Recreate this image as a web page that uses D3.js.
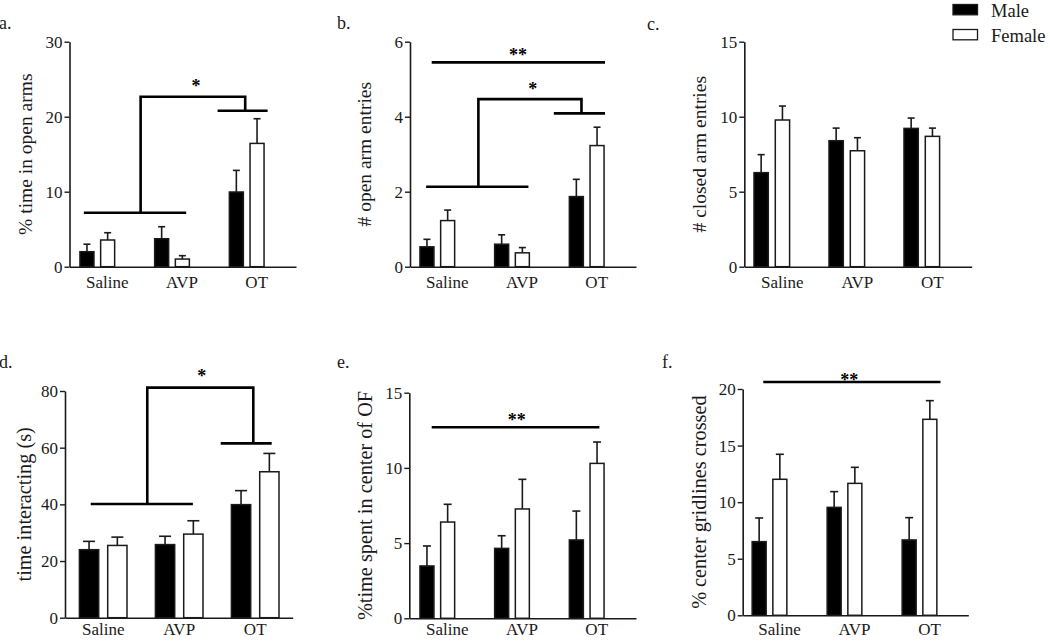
<!DOCTYPE html>
<html>
<head>
<meta charset="utf-8">
<script src="https://cdn.jsdelivr.net/npm/d3@7"></script>
<style>
  html, body { margin: 0; padding: 0; background: #fff; }
  svg { display: block; font-family: "Liberation Serif", "Times New Roman", serif; }
</style>
</head>
<body>
<svg id="chart" width="1050" height="641"></svg>
<script>
// ---------------- DATA ----------------
const categories = ["Saline", "AVP", "OT"];
const sexes = ["Male", "Female"];

// a. % time in open arms
const aMale = [2.0, 3.73, 9.96];
const aMaleSem = [1.0, 1.6, 2.88];
const aFemale = [3.56, 1.02, 16.44];
const aFemaleSem = [0.97, 0.45, 3.29];
const aTicks = [0, 10, 20, 30];

// b. # open arm entries
const bMale = [0.53, 0.60, 1.87];
const bMaleSem = [0.20, 0.25, 0.46];
const bFemale = [1.23, 0.37, 3.23];
const bFemaleSem = [0.28, 0.14, 0.49];
const bTicks = [0, 2, 4, 6];

// c. # closed arm entries
const cMale = [6.27, 8.4, 9.22];
const cMaleSem = [1.2, 0.84, 0.69];
const cFemale = [9.78, 7.73, 8.69];
const cFemaleSem = [0.93, 0.87, 0.55];
const cTicks = [0, 5, 10, 15];

// d. time interacting (s)
const dMale = [24.0, 25.8, 39.9];
const dMaleSem = [2.94, 2.94, 4.94];
const dFemale = [25.5, 29.5, 51.5];
const dFemaleSem = [2.94, 4.71, 6.47];
const dTicks = [0, 20, 40, 60, 80];

// e. %time spent in center of OF
const eMale = [3.48, 4.65, 5.21];
const eMaleSem = [1.33, 0.84, 1.92];
const eFemale = [6.40, 7.27, 10.30];
const eFemaleSem = [1.18, 1.97, 1.42];
const eTicks = [0, 5, 10, 15];

// f. % center gridlines crossed
const fMale = [6.51, 9.54, 6.66];
const fMaleSem = [2.09, 1.39, 1.97];
const fFemale = [12.02, 11.66, 17.32];
const fFemaleSem = [2.21, 1.42, 1.65];
const fTicks = [0, 5, 10, 15, 20];

const panelTags = ["a.", "b.", "c.", "d.", "e.", "f."];
const yTitles = ["% time in open arms", "# open arm entries", "# closed arm entries",
                 "time interacting (s)", "%time spent in center of OF", "% center gridlines crossed"];

// significance annotations (x in category units: 0 = Saline, 1 = AVP, 2 = OT; y in data units)
const aSig = [{type: "bracket", left: [-0.18, 1.19], leftY: 7.2, right: [1.61, 2.28], rightY: 20.8,
               join: [0.58, 1.98], topY: 22.67, label: "*", labelX: 1.32, labelY: 24.5}];
const bSig = [{type: "line", span: [-0.075, 2.245], y: 5.449, label: "**", labelX: 1.08, labelY: 5.73},
              {type: "bracket", left: [-0.15, 1.22], leftY: 2.133, right: [1.56, 2.245], rightY: 4.09,
               join: [0.55, 1.93], topY: 4.47, label: "*", labelX: 1.277, labelY: 4.82}];
const cSig = [];
const dSig = [{type: "bracket", left: [-0.164, 1.18], leftY: 40.1, right: [1.546, 2.217], rightY: 61.5,
               join: [0.58, 1.975], topY: 81.2, label: "*", labelX: 1.296, labelY: 86.35}];
const eSig = [{type: "line", span: [-0.075, 2.17], y: 12.7, label: "**", labelX: 1.063, labelY: 13.4}];
const fSig = [{type: "line", span: [-0.083, 2.28], y: 20.62, label: "**", labelX: 1.064, labelY: 21.09}];

// ---------------- LAYOUT ----------------
const panels = [
  {male: aMale, maleSem: aMaleSem, female: aFemale, femaleSem: aFemaleSem, ticks: aTicks, sig: aSig,
   axisX: 69.5, xEnd: 296, top: 41.7, bottom: 266.7, c0: 97.3, sp: 74.7, barW: 14, gap: 6.7, capW: 7,
   labelDx: 10, labelDy: 21, tagX: -1, tagY: 29, titleX: 31.5, titleSize: 19.5},
  {male: bMale, maleSem: bMaleSem, female: bFemale, femaleSem: bFemaleSem, ticks: bTicks, sig: bSig,
   axisX: 410, xEnd: 636, top: 41.7, bottom: 266.7, c0: 437.3, sp: 74.7, barW: 14, gap: 6.7, capW: 7,
   labelDx: 10, labelDy: 21, tagX: 337, tagY: 29, titleX: 371, titleSize: 19.5},
  {male: cMale, maleSem: cMaleSem, female: cFemale, femaleSem: cFemaleSem, ticks: cTicks, sig: cSig,
   axisX: 744.3, xEnd: 971.7, top: 41.7, bottom: 266.7, c0: 771.8, sp: 75, barW: 14.3, gap: 7, capW: 7,
   labelDx: 10.5, labelDy: 21, tagX: 647, tagY: 30, titleX: 706, titleSize: 19.5},
  {male: dMale, maleSem: dMaleSem, female: dFemale, femaleSem: dFemaleSem, ticks: dTicks, sig: dSig,
   axisX: 65, xEnd: 292.7, top: 391, bottom: 617.7, c0: 103.2, sp: 76, barW: 19.3, gap: 9, capW: 12,
   labelDx: 0, labelDy: 17.5, tagX: -1, tagY: 368, titleX: 31, titleSize: 20.3},
  {male: eMale, maleSem: eMaleSem, female: eFemale, femaleSem: eFemaleSem, ticks: eTicks, sig: eSig,
   axisX: 409.3, xEnd: 636, top: 392.7, bottom: 618.3, c0: 437.3, sp: 74.7, barW: 14, gap: 6.7, capW: 8,
   labelDx: 10, labelDy: 17, tagX: 337, tagY: 368, titleX: 372, titleSize: 20.3},
  {male: fMale, maleSem: fMaleSem, female: fFemale, femaleSem: fFemaleSem, ticks: fTicks, sig: fSig,
   axisX: 742.7, xEnd: 968.3, top: 389, bottom: 615.3, c0: 769.5, sp: 75, barW: 14, gap: 6.7, capW: 8,
   labelDx: 10, labelDy: 19.5, tagX: 662, tagY: 368, titleX: 706, titleSize: 20.3}
];

const INK = "#1a1a1a";
const svg = d3.select("#chart");

panels.forEach((p, pi) => {
  const g = svg.append("g");
  const yMax = p.ticks[p.ticks.length - 1];
  const y = d3.scaleLinear().domain([0, yMax]).range([p.bottom, p.top]);
  const x = d3.scaleLinear().domain([0, 2]).range([p.c0, p.c0 + 2 * p.sp]);
  const sexOffset = d3.scaleOrdinal().domain(sexes).range([-(p.gap / 2 + p.barW), p.gap / 2]);

  const rows = [];
  categories.forEach((c, i) => {
    rows.push({cat: c, i, sex: "Male", v: p.male[i], sem: p.maleSem[i]});
    rows.push({cat: c, i, sex: "Female", v: p.female[i], sem: p.femaleSem[i]});
  });

  // error bars
  const eb = g.append("g").attr("stroke", INK).attr("stroke-width", 1.6).attr("fill", "none");
  rows.forEach(r => {
    const cx = x(r.i) + sexOffset(r.sex) + p.barW / 2;
    eb.append("line").attr("x1", cx).attr("x2", cx).attr("y1", y(r.v)).attr("y2", y(r.v + r.sem));
    eb.append("line").attr("x1", cx - p.capW / 2).attr("x2", cx + p.capW / 2)
      .attr("y1", y(r.v + r.sem)).attr("y2", y(r.v + r.sem));
  });

  // bars
  g.append("g").selectAll("rect").data(rows).join("rect")
    .attr("x", r => x(r.i) + sexOffset(r.sex))
    .attr("y", r => y(r.v))
    .attr("width", p.barW)
    .attr("height", r => y(0) - y(r.v))
    .attr("fill", r => r.sex === "Male" ? "#000" : "#fff")
    .attr("stroke", INK).attr("stroke-width", 1.5);

  // y axis
  const yAxis = d3.axisLeft(y).tickValues(p.ticks).tickSize(5).tickSizeOuter(0).tickPadding(2)
    .tickFormat(d3.format("d"));
  const ya = g.append("g").attr("transform", `translate(${p.axisX},0)`).call(yAxis);
  ya.select(".domain").attr("stroke", INK).attr("stroke-width", 1.6);
  ya.selectAll(".tick line").attr("stroke", INK).attr("stroke-width", 1.4);
  ya.selectAll(".tick text").attr("fill", INK).style("font-size", "17px")
    .style("font-family", '"Liberation Serif", serif');

  // x axis line
  const xAxisScale = d3.scaleLinear().domain([0, 1]).range([p.axisX, p.xEnd]);
  const xa = g.append("g").attr("transform", `translate(0,${y(0)})`)
    .call(d3.axisBottom(xAxisScale).tickValues([]).tickSizeOuter(0));
  xa.select(".domain").attr("stroke", INK).attr("stroke-width", 1.6);

  // category labels
  g.append("g").selectAll("text").data(categories).join("text")
    .attr("x", (c, i) => x(i) + p.labelDx)
    .attr("y", y(0) + p.labelDy)
    .attr("text-anchor", "middle")
    .attr("fill", INK)
    .style("font-size", "17px")
    .text(c => c);

  // y title
  g.append("text")
    .attr("transform", `translate(${p.titleX},${(p.top + p.bottom) / 2}) rotate(-90)`)
    .attr("text-anchor", "middle")
    .attr("fill", INK)
    .style("font-size", p.titleSize + "px")
    .text(yTitles[pi]);

  // panel tag
  g.append("text").attr("x", p.tagX).attr("y", p.tagY).attr("fill", INK)
    .style("font-size", "18px").text(panelTags[pi]);

  // significance
  const sg = g.append("g").attr("stroke", "#000").attr("stroke-width", 2.6).attr("fill", "none");
  p.sig.forEach(s => {
    if (s.type === "line") {
      sg.append("line").attr("x1", x(s.span[0])).attr("x2", x(s.span[1]))
        .attr("y1", y(s.y)).attr("y2", y(s.y));
    } else {
      sg.append("line").attr("x1", x(s.left[0])).attr("x2", x(s.left[1]))
        .attr("y1", y(s.leftY)).attr("y2", y(s.leftY));
      sg.append("line").attr("x1", x(s.right[0])).attr("x2", x(s.right[1]))
        .attr("y1", y(s.rightY)).attr("y2", y(s.rightY));
      const path = d3.path();
      path.moveTo(x(s.join[0]), y(s.leftY));
      path.lineTo(x(s.join[0]), y(s.topY));
      path.lineTo(x(s.join[1]), y(s.topY));
      path.lineTo(x(s.join[1]), y(s.rightY));
      sg.append("path").attr("d", path.toString()).attr("stroke-linejoin", "miter");
    }
    g.append("text").attr("x", x(s.labelX)).attr("y", y(s.labelY) + 9)
      .attr("text-anchor", "middle").attr("fill", "#000")
      .style("font-size", "18px").style("font-weight", "bold").text(s.label);
  });
});

// legend
const legendItems = sexes.map((s, i) => ({s, i}));
const lg = svg.append("g");
const legendY = d3.scalePoint().domain(sexes).range([4.5, 29.5]);
lg.selectAll("rect").data(legendItems).join("rect")
  .attr("x", 953).attr("y", d => legendY(d.s))
  .attr("width", 24.5).attr("height", 10.3)
  .attr("fill", d => d.s === "Male" ? "#000" : "#fff")
  .attr("stroke", INK).attr("stroke-width", 1.3);
lg.selectAll("text").data(legendItems).join("text")
  .attr("x", 991).attr("y", d => legendY(d.s) + 12)
  .attr("fill", INK).style("font-size", "18.5px")
  .text(d => d.s);
</script>
</body>
</html>
